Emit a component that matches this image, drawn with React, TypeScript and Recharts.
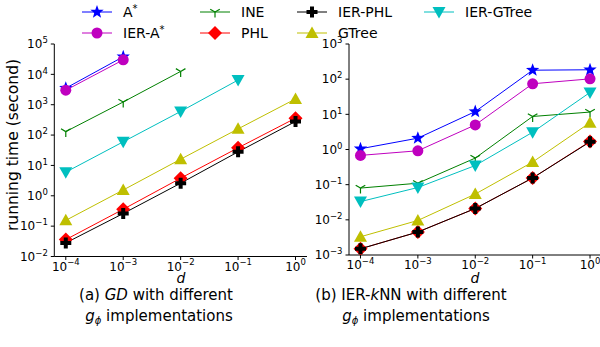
import { LineChart, Line, XAxis, YAxis } from "recharts";

// x values (d) shared by both panels
const dValues = [1e-4, 1e-3, 1e-2, 1e-1, 1];

// (a) GD with different g_phi implementations (seconds)
const aStarGD = [3500, 38000, null, null, null];
const ierAStarGD = [3000, 30000, null, null, null];
const ineGD = [130, 1230, 12500, null, null];
const phlGD = [0.036, 0.36, 3.8, 38, 360];
const ierPhlGD = [0.028, 0.26, 2.6, 28, 280];
const gtreeGD = [0.155, 1.55, 16, 160, 1550];
const ierGtreeGD = [6, 60, 600, 6500, null];

// (b) IER-kNN with different g_phi implementations (seconds)
const aStarKnn = [1.05, 2.1, 12, 180, 185];
const ierAStarKnn = [0.68, 0.92, 5.0, 74, 102];
const ineKnn = [0.08, 0.11, 0.57, 8.7, 11.6];
const phlKnn = [0.0015, 0.0045, 0.021, 0.155, 1.7];
const ierPhlKnn = [0.0015, 0.0045, 0.021, 0.155, 1.65];
const gtreeKnn = [0.0033, 0.0096, 0.054, 0.44, 5.8];
const ierGtreeKnn = [0.033, 0.083, 0.35, 3.1, 42];

const gdYTicks = [1e-2, 1e-1, 1, 1e1, 1e2, 1e3, 1e4, 1e5];
const knnYTicks = [1e-3, 1e-2, 1e-1, 1, 1e1, 1e2, 1e3];

const FONT = "DejaVu Sans, Verdana, sans-serif";

type Kind = "star" | "circle" | "tri1" | "diamond" | "plus" | "tup" | "tdown";

const series: { key: string; color: string; kind: Kind }[] = [
  { key: "aStar", color: "#0000ff", kind: "star" },
  { key: "ierAStar", color: "#bf00bf", kind: "circle" },
  { key: "ine", color: "#008000", kind: "tri1" },
  { key: "phl", color: "#ff0000", kind: "diamond" },
  { key: "ierPhl", color: "#000000", kind: "plus" },
  { key: "gtree", color: "#bfbf00", kind: "tup" },
  { key: "ierGtree", color: "#00bfbf", kind: "tdown" },
];

const gdData = dValues.map((d, i) => ({
  d,
  aStar: aStarGD[i],
  ierAStar: ierAStarGD[i],
  ine: ineGD[i],
  phl: phlGD[i],
  ierPhl: ierPhlGD[i],
  gtree: gtreeGD[i],
  ierGtree: ierGtreeGD[i],
}));

const knnData = dValues.map((d, i) => ({
  d,
  aStar: aStarKnn[i],
  ierAStar: ierAStarKnn[i],
  ine: ineKnn[i],
  phl: phlKnn[i],
  ierPhl: ierPhlKnn[i],
  gtree: gtreeKnn[i],
  ierGtree: ierGtreeKnn[i],
}));

function Marker({ kind, cx, cy, color }: { kind: Kind; cx: number; cy: number; color: string }) {
  switch (kind) {
    case "star": {
      const pts: string[] = [];
      for (let i = 0; i < 10; i++) {
        const r = i % 2 === 0 ? 7 : 2.9;
        const a = -Math.PI / 2 + (i * Math.PI) / 5;
        pts.push(`${cx + r * Math.cos(a)},${cy + r * Math.sin(a)}`);
      }
      return <polygon points={pts.join(" ")} fill={color} />;
    }
    case "circle":
      return <circle cx={cx} cy={cy} r={5.5} fill={color} />;
    case "tri1":
      return (
        <g stroke={color} strokeWidth={1.2}>
          <line x1={cx} y1={cy} x2={cx} y2={cy + 5.5} />
          <line x1={cx} y1={cy} x2={cx - 4.8} y2={cy - 2.8} />
          <line x1={cx} y1={cy} x2={cx + 4.8} y2={cy - 2.8} />
        </g>
      );
    case "diamond":
      return (
        <polygon
          points={`${cx},${cy - 7} ${cx + 7},${cy} ${cx},${cy + 7} ${cx - 7},${cy}`}
          fill={color}
        />
      );
    case "plus": {
      const s = 5.5;
      const w = 2;
      return (
        <path
          d={`M${cx - w},${cy - s} H${cx + w} V${cy - w} H${cx + s} V${cy + w} H${cx + w} V${cy + s} H${cx - w} V${cy + w} H${cx - s} V${cy - w} H${cx - w} Z`}
          fill={color}
        />
      );
    }
    case "tup":
      return (
        <polygon
          points={`${cx},${cy - 6.5} ${cx + 6.5},${cy + 5} ${cx - 6.5},${cy + 5}`}
          fill={color}
        />
      );
    case "tdown":
      return (
        <polygon
          points={`${cx - 6.5},${cy - 5} ${cx + 6.5},${cy - 5} ${cx},${cy + 6.5}`}
          fill={color}
        />
      );
  }
}

function expOf(v: number) {
  const e = Math.round(Math.log10(v));
  return e < 0 ? "\u2212" + Math.abs(e) : String(e);
}

function YTick(props: any) {
  const { x, y, payload } = props;
  return (
    <text x={x - 1} y={y} dy="0.36em" textAnchor="end" fontSize={12} fill="#000" fontFamily={FONT}>
      10
      <tspan dy="-0.6em" fontSize={8.5}>
        {expOf(payload.value)}
      </tspan>
    </text>
  );
}

function XTick(props: any) {
  const { x, y, payload } = props;
  return (
    <text x={x} y={y + 8.5} textAnchor="middle" fontSize={12} fill="#000" fontFamily={FONT}>
      10
      <tspan dy="-0.6em" fontSize={8.5}>
        {expOf(payload.value)}
      </tspan>
    </text>
  );
}

function Panel({
  data,
  yDomain,
  yTicks,
  left,
  width,
  margin,
}: {
  data: any[];
  yDomain: [number, number];
  yTicks: number[];
  left: number;
  width: number;
  margin: { top: number; right: number; bottom: number; left: number };
}) {
  const xDomain: [number, number] = [Math.pow(10, -4.2), Math.pow(10, 0.2)];
  return (
    <div style={{ position: "absolute", left, top: 0 }}>
      <LineChart width={width} height={300} data={data} margin={margin}>
        <XAxis
          dataKey="d"
          type="number"
          scale="log"
          domain={xDomain}
          ticks={dValues}
          allowDataOverflow
          tick={<XTick />}
          tickSize={3.5}
          height={30}
          stroke="#000"
          interval={0}
        />
        <XAxis
          xAxisId="top"
          dataKey="d"
          type="number"
          scale="log"
          domain={xDomain}
          orientation="top"
          allowDataOverflow
          tick={false}
          tickLine={false}
          height={0}
          stroke="#000"
        />
        <YAxis
          type="number"
          scale="log"
          domain={yDomain}
          ticks={yTicks}
          allowDataOverflow
          tick={<YTick />}
          tickSize={3.5}
          width={50}
          stroke="#000"
          interval={0}
        />
        <YAxis
          yAxisId="right"
          type="number"
          scale="log"
          domain={yDomain}
          orientation="right"
          allowDataOverflow
          tick={false}
          tickLine={false}
          width={0}
          stroke="#000"
        />
        {series.map((s) => (
          <Line
            key={s.key}
            dataKey={s.key}
            type="linear"
            stroke={s.color}
            strokeWidth={1}
            isAnimationActive={false}
            connectNulls={false}
            activeDot={false}
            dot={(p: any) => {
              if (p.value == null || p.cx == null || p.cy == null) return <g key={`${s.key}-${p.index}`} />;
              return (
                <g key={`${s.key}-${p.index}`}>
                  <Marker kind={s.kind} cx={p.cx} cy={p.cy} color={s.color} />
                </g>
              );
            }}
          />
        ))}
      </LineChart>
    </div>
  );
}

const legendItems: { label: any; idx: number; x: number; y: number }[] = [
  { label: <>A<tspan dy="-0.5em" fontSize={10}>*</tspan></>, idx: 0, x: 97, y: 12 },
  { label: <>IER-A<tspan dy="-0.5em" fontSize={10}>*</tspan></>, idx: 1, x: 97, y: 33 },
  { label: "INE", idx: 2, x: 215, y: 12 },
  { label: "PHL", idx: 3, x: 215, y: 33 },
  { label: "IER-PHL", idx: 4, x: 312, y: 12 },
  { label: "GTree", idx: 5, x: 312, y: 33 },
  { label: "IER-GTree", idx: 6, x: 439, y: 12 },
];

export default function App() {
  return (
    <div
      style={{
        position: "absolute",
        left: 0,
        top: 0,
        width: 600,
        height: 347,
        overflow: "hidden",
        background: "#fff",
        fontFamily: FONT,
      }}
    >
      <Panel
        data={gdData}
        yDomain={[1e-2, 1e5]}
        yTicks={gdYTicks}
        left={0}
        width={320}
        margin={{ top: 44, right: 13, bottom: 13.5, left: 4.3 }}
      />
      <Panel
        data={knnData}
        yDomain={[1e-3, 1e3]}
        yTicks={knnYTicks}
        left={300}
        width={303}
        margin={{ top: 44, right: 1.5, bottom: 15, left: -1 }}
      />
      <svg
        width={600}
        height={347}
        style={{ position: "absolute", left: 0, top: 0, pointerEvents: "none" }}
        fontFamily={FONT}
      >
        {legendItems.map((it) => {
          const s = series[it.idx];
          return (
            <g key={it.idx}>
              <line x1={it.x - 15} y1={it.y} x2={it.x + 15} y2={it.y} stroke={s.color} strokeWidth={1} />
              <Marker kind={s.kind} cx={it.x} cy={it.y} color={s.color} />
              <text x={it.x + 26} y={it.y + 5} fontSize={14} fill="#000">
                {it.label}
              </text>
            </g>
          );
        })}
        <text
          transform="translate(18,145) rotate(-90)"
          textAnchor="middle"
          fontSize={15.5}
          fill="#000"
        >
          running time (second)
        </text>
        <text x={181} y={283} textAnchor="middle" fontSize={14} fontStyle="italic" fill="#000">
          d
        </text>
        <text x={475} y={283} textAnchor="middle" fontSize={14} fontStyle="italic" fill="#000">
          d
        </text>
        <text x={156} y={300} textAnchor="middle" fontSize={15} fill="#000">
          (a) <tspan fontStyle="italic">GD</tspan> with different
        </text>
        <text x={159} y={321} textAnchor="middle" fontSize={15} fill="#000">
          <tspan fontStyle="italic">g</tspan>
          <tspan dy="3" fontSize={10} fontStyle="italic">ϕ</tspan>
          <tspan dy="-3"> implementations</tspan>
        </text>
        <text x={411} y={300} textAnchor="middle" fontSize={15} fill="#000">
          (b) IER-<tspan fontStyle="italic">k</tspan>NN with different
        </text>
        <text x={416} y={321} textAnchor="middle" fontSize={15} fill="#000">
          <tspan fontStyle="italic">g</tspan>
          <tspan dy="3" fontSize={10} fontStyle="italic">ϕ</tspan>
          <tspan dy="-3"> implementations</tspan>
        </text>
      </svg>
    </div>
  );
}
